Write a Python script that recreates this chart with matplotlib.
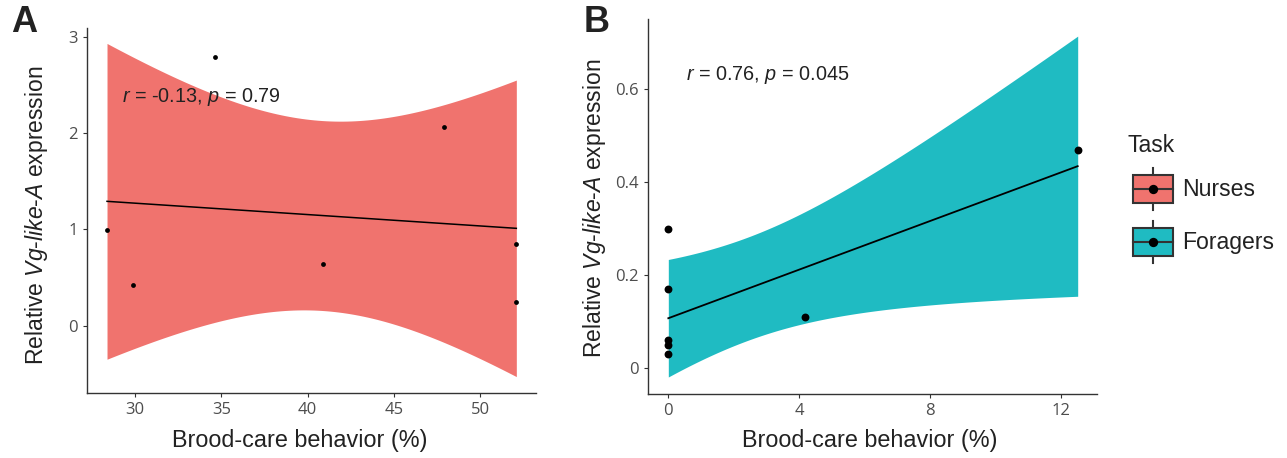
import numpy as np
import matplotlib
matplotlib.use("Agg")
import matplotlib.pyplot as plt
from matplotlib.patches import Rectangle

# ---------------- data ----------------
nurse_x = [28.38, 29.9, 34.65, 40.9, 47.9, 52.1, 52.1]
nurse_y = [0.99, 0.42, 2.79, 0.64, 2.06, 0.85, 0.25]
forager_x = [0, 0, 0, 0, 0, 4.17, 12.51]
forager_y = [0.30, 0.17, 0.06, 0.05, 0.03, 0.11, 0.47]
labels = ["Nurses", "Foragers"]
colors = ["#F0736E", "#1FBBC2"]
ann_a = ("-0.13", "0.79")
ann_b = ("0.76", "0.045")
ticks_a_x = [30, 35, 40, 45, 50]
ticks_a_y = [0, 1, 2, 3]
ticks_b_x = [0, 4, 8, 12]
ticks_b_y = [0, 0.2, 0.4, 0.6]
T975_DF5 = 2.570582  # t quantile, 5 degrees of freedom

plt.rcParams["mathtext.fontset"] = "custom"
plt.rcParams["mathtext.rm"] = "Liberation Sans"
plt.rcParams["mathtext.it"] = "Liberation Sans:italic"

W, H = 1287, 458
fig = plt.figure(figsize=(W / 100, H / 100), dpi=100)
fig.patch.set_facecolor("white")

def fx(px):
    return px / W

def fy(py):
    return 1 - py / H

def fit_ci(x, y, n=100):
    x = np.asarray(x, float)
    y = np.asarray(y, float)
    mx, my = x.mean(), y.mean()
    sxx = ((x - mx) ** 2).sum()
    b = ((x - mx) * (y - my)).sum() / sxx
    a = my - b * mx
    res = y - (a + b * x)
    s = np.sqrt((res ** 2).sum() / (len(x) - 2))
    gx = np.linspace(x.min(), x.max(), n)
    gy = a + b * gx
    se = s * np.sqrt(1 / len(x) + (gx - mx) ** 2 / sxx)
    return gx, gy, gy - T975_DF5 * se, gy + T975_DF5 * se

def style(ax):
    for s in ["top", "right"]:
        ax.spines[s].set_visible(False)
    for s in ["left", "bottom"]:
        ax.spines[s].set_color("#333333")
        ax.spines[s].set_linewidth(1.0)
    ax.tick_params(length=3, width=0.8, color="#333333", labelcolor="#4D4D4D",
                   labelsize=12)
    for lab in ax.get_xticklabels() + ax.get_yticklabels():
        lab.set_family("Open Sans")
    ax.set_facecolor("white")

ylab = r"Relative $\mathit{Vg}$-$\mathit{like}$-$\mathit{A}$ expression"
xlab = "Brood-care behavior (%)"
TXT = "#222222"

# Panel A
axA = fig.add_axes([fx(87), fy(393), fx(536 - 87), (393 - 28) / H])
gx, gy, lo, hi = fit_ci(nurse_x, nurse_y)
axA.fill_between(gx, lo, hi, color=colors[0], linewidth=0, zorder=1)
axA.plot(gx, gy, color="black", lw=1.1, zorder=2)
axA.scatter(nurse_x, nurse_y, s=12, color="black", zorder=3, linewidths=0)
axA.set_xlim(27.22, 53.24)
axA.set_ylim(-0.70, 3.09)
axA.set_xticks(ticks_a_x)
axA.set_yticks(ticks_a_y)
style(axA)
axA.text(29.25, 2.37, r"$r$ = %s, $p$ = %s" % ann_a, fontsize=14.3,
         family="Liberation Sans", color=TXT, va="center", ha="left")

# Panel B
axB = fig.add_axes([fx(647.7), fy(394), fx(1097 - 647.7), (394 - 19.3) / H])
gx, gy, lo, hi = fit_ci(forager_x, forager_y)
axB.fill_between(gx, lo, hi, color=colors[1], linewidth=0, zorder=1)
axB.plot(gx, gy, color="black", lw=1.3, zorder=2)
axB.scatter(forager_x, forager_y, s=32, color="black", zorder=3, linewidths=0)
axB.set_xlim(-0.63, 13.1)
axB.set_ylim(-0.055, 0.75)
axB.set_xticks(ticks_b_x)
axB.set_yticks(ticks_b_y)
axB.set_yticklabels(["0", "0.2", "0.4", "0.6"])
style(axB)
axB.text(0.54, 0.63, r"$r$ = %s, $p$ = %s" % ann_b, fontsize=14.3,
         family="Liberation Sans", color=TXT, va="center", ha="left")

# axis titles
fig.text(fx(37), fy(215), ylab, rotation=90, ha="center", va="center",
         fontsize=16.5, family="Liberation Sans", color=TXT)
fig.text(fx(595), fy(208), ylab, rotation=90, ha="center", va="center",
         fontsize=16.5, family="Liberation Sans", color=TXT)
fig.text(fx(300), fy(441), xlab, ha="center", va="center",
         fontsize=16.8, family="Liberation Sans", color=TXT)
fig.text(fx(870), fy(441), xlab, ha="center", va="center",
         fontsize=16.8, family="Liberation Sans", color=TXT)

# panel letters
fig.text(fx(11), fy(22.5), "A", ha="left", va="center", fontsize=26,
         fontweight="bold", family="Liberation Sans", color=TXT)
fig.text(fx(584), fy(22.5), "B", ha="left", va="center", fontsize=26,
         fontweight="bold", family="Liberation Sans", color=TXT)

# legend drawn in pixel coordinates
axL = fig.add_axes([fx(1110), fy(280), fx(1287 - 1110), (280 - 110) / H])
axL.set_xlim(1110, 1287)
axL.set_ylim(280, 110)
axL.axis("off")
axL.text(1127, 145, "Task", fontsize=16.6, family="Liberation Sans",
         color=TXT, va="center", ha="left")
for lab, col, cy in zip(labels, colors, [189, 242]):
    axL.plot([1153, 1153], [cy - 21, cy + 21], color="#333333", lw=1.5, zorder=1)
    axL.add_patch(Rectangle((1133, cy - 14), 40, 28, facecolor=col,
                            edgecolor="#333333", lw=1.5, zorder=2))
    axL.plot([1133, 1173], [cy, cy], color="#333333", lw=1.5, zorder=3)
    axL.scatter([1153], [cy], s=45, color="black", zorder=4, linewidths=0)
    axL.text(1182, cy, lab, fontsize=16.6, family="Liberation Sans",
             color=TXT, va="center", ha="left")

fig.savefig("out.png", dpi=100, facecolor="white")
